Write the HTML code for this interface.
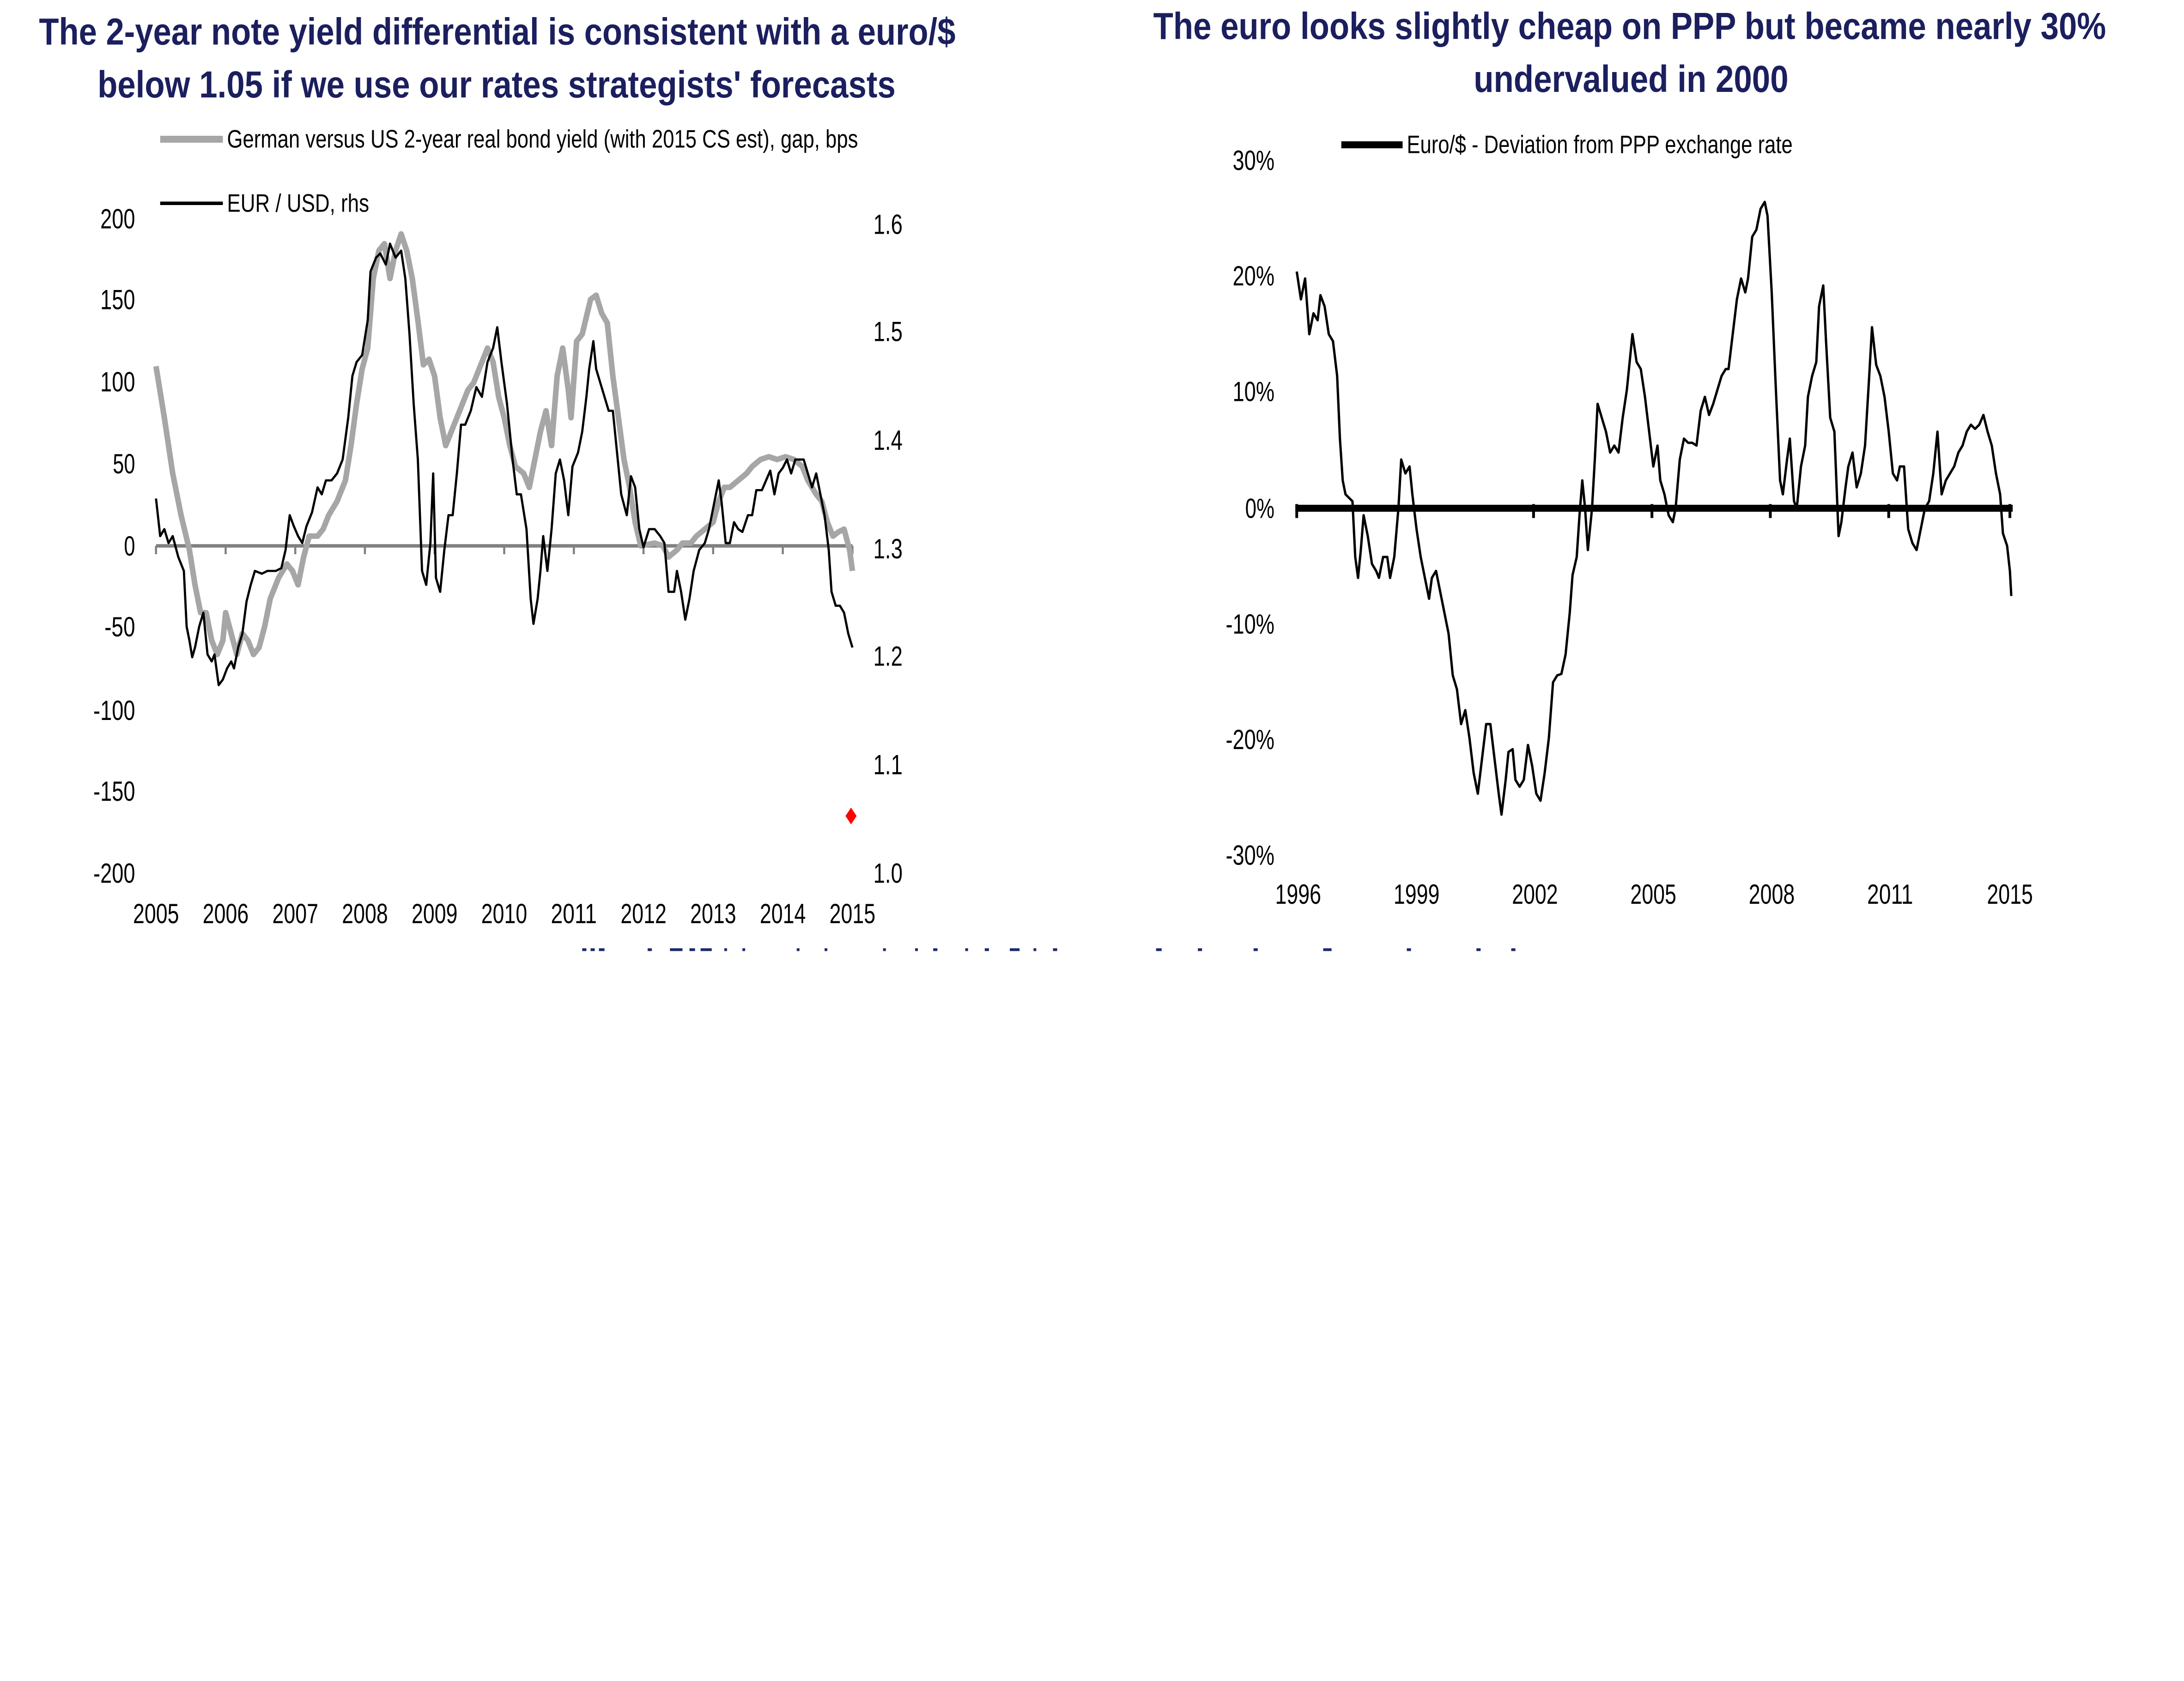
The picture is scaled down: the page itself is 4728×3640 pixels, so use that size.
<!DOCTYPE html>
<html><head><meta charset="utf-8"><style>
html,body{margin:0;padding:0;background:#fff;width:4728px;height:3640px;overflow:hidden}
svg{display:block}
text{font-family:"Liberation Sans Narrow","Liberation Sans",sans-serif}
</style></head><body>
<svg width="4728" height="3640" viewBox="0 0 1568 1207.2" preserveAspectRatio="none" xmlns="http://www.w3.org/2000/svg">
<rect width="1568" height="1208" fill="#fff"/>
<g fill="#1b1f5e" font-weight="bold" font-size="27">
<text x="28" y="32" textLength="658" lengthAdjust="spacingAndGlyphs">The 2-year note yield differential is consistent with a euro/$</text>
<text x="70" y="70" textLength="573" lengthAdjust="spacingAndGlyphs">below 1.05 if we use our rates strategists' forecasts</text>
<text x="828" y="28" textLength="684" lengthAdjust="spacingAndGlyphs">The euro looks slightly cheap on PPP but became nearly 30%</text>
<text x="1058" y="66" textLength="226" lengthAdjust="spacingAndGlyphs">undervalued in 2000</text>
</g>
<line x1="115" y1="100" x2="160" y2="100" stroke="#a6a6a6" stroke-width="5"/>
<text x="163" y="106" font-size="18" fill="#000" textLength="453" lengthAdjust="spacingAndGlyphs">German versus US 2-year real bond yield (with 2015 CS est), gap, bps</text>
<line x1="115" y1="146" x2="160" y2="146" stroke="#000" stroke-width="2.5"/>
<text x="163" y="152" font-size="18" fill="#000" textLength="102" lengthAdjust="spacingAndGlyphs">EUR / USD, rhs</text>
<g font-size="20" fill="#000" text-anchor="end" lengthAdjust="spacingAndGlyphs">
<text x="97" y="164" textLength="25" lengthAdjust="spacingAndGlyphs">200</text><text x="97" y="222" textLength="25" lengthAdjust="spacingAndGlyphs">150</text><text x="97" y="281" textLength="25" lengthAdjust="spacingAndGlyphs">100</text><text x="97" y="340" textLength="16" lengthAdjust="spacingAndGlyphs">50</text><text x="97" y="399" textLength="8" lengthAdjust="spacingAndGlyphs">0</text><text x="97" y="457" textLength="22" lengthAdjust="spacingAndGlyphs">-50</text><text x="97" y="517" textLength="30" lengthAdjust="spacingAndGlyphs">-100</text><text x="97" y="575" textLength="30" lengthAdjust="spacingAndGlyphs">-150</text><text x="97" y="634" textLength="30" lengthAdjust="spacingAndGlyphs">-200</text>
</g>
<g font-size="20" fill="#000">
<text x="627" y="168" textLength="21" lengthAdjust="spacingAndGlyphs">1.6</text><text x="627" y="245" textLength="21" lengthAdjust="spacingAndGlyphs">1.5</text><text x="627" y="323" textLength="21" lengthAdjust="spacingAndGlyphs">1.4</text><text x="627" y="401" textLength="21" lengthAdjust="spacingAndGlyphs">1.3</text><text x="627" y="478" textLength="21" lengthAdjust="spacingAndGlyphs">1.2</text><text x="627" y="556" textLength="21" lengthAdjust="spacingAndGlyphs">1.1</text><text x="627" y="634" textLength="21" lengthAdjust="spacingAndGlyphs">1.0</text>
</g>
<g font-size="20" fill="#000" text-anchor="middle">
<text x="112" y="663" textLength="33" lengthAdjust="spacingAndGlyphs">2005</text><text x="162" y="663" textLength="33" lengthAdjust="spacingAndGlyphs">2006</text><text x="212" y="663" textLength="33" lengthAdjust="spacingAndGlyphs">2007</text><text x="262" y="663" textLength="33" lengthAdjust="spacingAndGlyphs">2008</text><text x="312" y="663" textLength="33" lengthAdjust="spacingAndGlyphs">2009</text><text x="362" y="663" textLength="33" lengthAdjust="spacingAndGlyphs">2010</text><text x="412" y="663" textLength="33" lengthAdjust="spacingAndGlyphs">2011</text><text x="462" y="663" textLength="33" lengthAdjust="spacingAndGlyphs">2012</text><text x="512" y="663" textLength="33" lengthAdjust="spacingAndGlyphs">2013</text><text x="562" y="663" textLength="33" lengthAdjust="spacingAndGlyphs">2014</text><text x="612" y="663" textLength="33" lengthAdjust="spacingAndGlyphs">2015</text>
</g>
<line x1="112" y1="392" x2="612" y2="392" stroke="#808080" stroke-width="2.5"/>
<g stroke="#808080" stroke-width="1.5">
<line x1="112" y1="392" x2="112" y2="398"/><line x1="162" y1="392" x2="162" y2="398"/><line x1="212" y1="392" x2="212" y2="398"/><line x1="262" y1="392" x2="262" y2="398"/><line x1="312" y1="392" x2="312" y2="398"/><line x1="362" y1="392" x2="362" y2="398"/><line x1="412" y1="392" x2="412" y2="398"/><line x1="462" y1="392" x2="462" y2="398"/><line x1="512" y1="392" x2="512" y2="398"/><line x1="562" y1="392" x2="562" y2="398"/><line x1="612" y1="392" x2="612" y2="398"/>
</g>
<polyline fill="none" stroke="#a6a6a6" stroke-width="4" stroke-linejoin="round" points="112,263 118,300 124,340 130,370 136,395 140,420 144,440 148,440 152,460 156,470 160,460 162,440 166,455 170,470 174,455 178,460 182,470 186,465 190,450 194,430 200,415 206,405 210,410 214,420 218,400 222,385 228,385 232,380 236,370 242,360 248,345 252,320 256,290 260,265 264,250 268,200 272,180 276,175 280,200 284,180 288,168 292,180 296,200 300,230 304,262 308,258 312,270 316,300 320,320 324,310 328,300 332,290 336,280 340,275 346,260 350,250 354,260 358,285 362,300 366,320 370,335 376,340 380,350 384,330 388,310 392,295 396,320 400,270 404,250 408,280 410,300 414,245 418,240 424,215 428,212 432,225 436,232 440,270 444,300 448,330 452,350 456,375 460,392 470,390 476,392 480,400 486,395 490,390 496,390 500,385 506,380 512,375 516,360 520,350 524,350 530,345 536,340 540,335 546,330 552,328 558,330 564,328 570,330 576,335 580,345 586,355 590,360 594,375 598,385 602,382 606,380 610,395 612,410"/>
<polyline fill="none" stroke="#000" stroke-width="1.6" stroke-linejoin="round" points="112,358 115,385 118,380 121,390 124,385 128,400 132,410 134,450 136,460 138,472 140,465 143,450 146,440 149,470 152,475 154,470 157,492 160,488 163,480 166,475 168,480 171,465 174,455 177,432 180,420 183,410 188,412 192,410 195,410 198,410 202,408 205,395 208,370 211,378 214,385 217,390 220,378 224,368 228,350 231,355 234,345 238,345 242,340 246,330 250,300 253,270 256,260 260,255 264,230 266,195 270,185 273,182 277,190 280,175 284,185 288,180 291,200 294,240 297,290 300,330 303,410 306,420 309,390 311,340 313,415 316,425 319,395 322,370 325,370 328,340 331,305 334,305 338,295 342,278 346,285 350,260 354,250 357,235 360,260 364,290 368,330 371,355 374,355 378,380 381,430 383,448 386,430 388,410 390,385 393,410 396,380 399,340 402,330 405,345 408,370 411,335 415,325 418,310 421,285 423,265 426,245 428,265 431,275 434,285 437,295 440,295 443,325 446,355 450,370 453,342 456,350 459,380 462,393 466,380 470,380 474,385 477,390 480,425 484,425 486,410 489,425 492,445 495,430 498,410 502,395 506,390 509,380 513,360 516,345 518,360 521,390 524,390 527,375 530,380 533,382 537,370 540,370 543,352 547,352 550,345 553,338 556,355 559,340 562,336 565,330 568,340 571,330 574,330 577,330 580,340 583,350 586,340 589,355 592,370 595,395 597,425 600,435 603,435 606,440 609,455 612,465"/>
<polygon points="611,580 615,586 611,592 607,586" fill="#ff0000"/>

<line x1="963" y1="104" x2="1007" y2="104" stroke="#000" stroke-width="5"/>
<text x="1010" y="110" font-size="18" fill="#000" textLength="277" lengthAdjust="spacingAndGlyphs">Euro/$ - Deviation from PPP exchange rate</text>
<g font-size="20" fill="#000" text-anchor="end">
<text x="915" y="122" textLength="30" lengthAdjust="spacingAndGlyphs">30%</text><text x="915" y="205" textLength="30" lengthAdjust="spacingAndGlyphs">20%</text><text x="915" y="288" textLength="30" lengthAdjust="spacingAndGlyphs">10%</text><text x="915" y="372" textLength="21" lengthAdjust="spacingAndGlyphs">0%</text><text x="915" y="455" textLength="35" lengthAdjust="spacingAndGlyphs">-10%</text><text x="915" y="538" textLength="35" lengthAdjust="spacingAndGlyphs">-20%</text><text x="915" y="621" textLength="35" lengthAdjust="spacingAndGlyphs">-30%</text>
</g>
<g font-size="20" fill="#000" text-anchor="middle">
<text x="932" y="649" textLength="33" lengthAdjust="spacingAndGlyphs">1996</text><text x="1017" y="649" textLength="33" lengthAdjust="spacingAndGlyphs">1999</text><text x="1102" y="649" textLength="33" lengthAdjust="spacingAndGlyphs">2002</text><text x="1187" y="649" textLength="33" lengthAdjust="spacingAndGlyphs">2005</text><text x="1272" y="649" textLength="33" lengthAdjust="spacingAndGlyphs">2008</text><text x="1357" y="649" textLength="33" lengthAdjust="spacingAndGlyphs">2011</text><text x="1443" y="649" textLength="33" lengthAdjust="spacingAndGlyphs">2015</text>
</g>
<line x1="930" y1="365" x2="1445" y2="365" stroke="#000" stroke-width="5"/>
<g stroke="#000" stroke-width="2">
<line x1="931" y1="362" x2="931" y2="372"/><line x1="1101" y1="362" x2="1101" y2="372"/><line x1="1186" y1="362" x2="1186" y2="372"/><line x1="1271" y1="362" x2="1271" y2="372"/><line x1="1356" y1="362" x2="1356" y2="372"/><line x1="1443" y1="362" x2="1443" y2="372"/>
</g>
<polyline fill="none" stroke="#000" stroke-width="1.7" stroke-linejoin="round" points="931,195 934,215 937,200 940,240 943,225 946,230 948,212 951,220 954,240 957,245 960,270 962,315 964,345 966,355 968,357 971,360 973,400 975,415 977,395 979,370 982,385 985,405 988,410 990,415 993,400 996,400 998,415 1001,400 1004,365 1006,330 1009,340 1012,335 1014,355 1017,380 1020,400 1023,415 1026,430 1028,415 1031,410 1034,425 1037,440 1040,455 1043,485 1046,495 1049,520 1052,510 1055,530 1058,555 1061,570 1064,545 1067,520 1070,520 1073,545 1076,570 1078,585 1081,560 1083,540 1086,538 1088,560 1091,565 1094,560 1097,535 1100,550 1103,570 1106,575 1109,555 1112,530 1115,490 1118,485 1121,484 1124,470 1127,440 1129,413 1132,400 1134,370 1136,345 1138,365 1140,395 1143,365 1145,330 1147,290 1150,300 1153,310 1156,325 1159,320 1162,325 1165,300 1168,280 1172,240 1175,260 1178,265 1181,285 1184,310 1187,335 1190,320 1192,345 1195,355 1198,370 1201,375 1203,365 1206,330 1209,315 1212,318 1215,318 1218,320 1221,295 1224,285 1227,298 1230,290 1233,280 1236,270 1239,265 1241,265 1244,240 1247,215 1250,200 1253,210 1255,200 1258,170 1261,165 1264,150 1267,145 1269,155 1272,210 1275,280 1278,345 1280,355 1283,330 1285,315 1288,360 1290,365 1293,335 1296,320 1298,285 1301,270 1304,260 1306,220 1309,205 1311,245 1314,300 1317,310 1320,385 1322,375 1325,350 1327,335 1330,325 1333,350 1336,340 1339,320 1342,270 1344,235 1347,262 1350,270 1353,285 1356,310 1359,340 1362,345 1364,335 1367,335 1370,380 1373,390 1376,395 1379,380 1382,365 1385,360 1388,340 1391,310 1394,355 1397,345 1400,340 1403,335 1406,325 1409,320 1412,310 1415,305 1418,308 1421,305 1424,298 1427,310 1430,320 1433,340 1436,355 1438,383 1441,392 1443,410 1444,428"/>

<g fill="#1b2a6b">
<rect x="418" y="681" width="3" height="2"/><rect x="424" y="681" width="3" height="2"/><rect x="430" y="681" width="4" height="2"/><rect x="465" y="681" width="3" height="2"/><rect x="481" y="681" width="9" height="2"/><rect x="495" y="681" width="4" height="2"/><rect x="503" y="681" width="8" height="2"/><rect x="520" y="681" width="2" height="2"/><rect x="533" y="681" width="2" height="2"/><rect x="572" y="681" width="2" height="2"/><rect x="592" y="681" width="2" height="2"/><rect x="634" y="681" width="2" height="2"/><rect x="657" y="681" width="2" height="2"/><rect x="670" y="681" width="3" height="2"/><rect x="693" y="681" width="2" height="2"/><rect x="707" y="681" width="3" height="2"/><rect x="725" y="681" width="7" height="2"/><rect x="742" y="681" width="2" height="2"/><rect x="756" y="681" width="3" height="2"/><rect x="830" y="681" width="4" height="2"/><rect x="860" y="681" width="3" height="2"/><rect x="900" y="681" width="3" height="2"/><rect x="950" y="681" width="6" height="2"/><rect x="1010" y="681" width="3" height="2"/><rect x="1060" y="681" width="3" height="2"/><rect x="1085" y="681" width="3" height="2"/>
</g>
</svg>
</body></html>
